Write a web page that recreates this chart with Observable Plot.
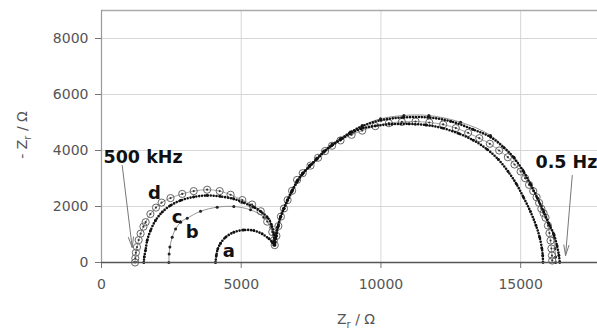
<!DOCTYPE html>
<html><head><meta charset="utf-8">
<script src="https://cdn.jsdelivr.net/npm/d3@7"></script>
<script src="https://cdn.jsdelivr.net/npm/@observablehq/plot@0.6"></script>
<style>body{margin:0;background:#fff}</style>
</head><body><div id="chart"></div>
<script>
// Nyquist data [Z_r (Ω), -Z_i (Ω)]
const seriesA = [[4080,0],[4110,250],[4160,480],[4260,680],[4440,900],[4735,1080],[5094,1160],[5450,1140],[5750,1020],[5990,850],[6120,720],[6170,620],
 [6230,900],[6300,1250],[6400,1600],[6530,1920],[6660,2220],[6820,2540],[7000,2880],[7200,3160],[7450,3430],[7700,3680],[7960,3940],[8250,4180],[8550,4380],[8900,4600],[9300,4780],
 [9800,4880],[10400,4940],[11000,4950],[11600,4910],[12200,4800],[12800,4600],[13300,4370],[13800,4040],[14200,3680],[14550,3250],[14850,2800],[15100,2330],[15350,1820],[15550,1320],[15680,900],[15760,500],[15790,250],[15800,0]];
const seriesB = [[2410,0],[2420,300],[2447,550],[2530,900],[2650,1200],[2830,1440],[3067,1580],[3543,1830],[4140,1975],[4735,2000],[5333,1880],[5810,1620],[6060,1250],[6170,800],[6200,620],
 [6260,950],[6330,1300],[6420,1640],[6530,1930],[6660,2240],[6820,2570],[7000,2910],[7200,3200],[7450,3470],[7700,3720],[7960,3980],[8250,4230],[8550,4440],[8900,4660],[9330,4890],[9985,5130],[10820,5250],[11715,5250],[12850,5010],[13920,4540],[14760,3760],[15350,2810],[15830,1860],[16050,1300],[16190,900],[16230,500],[16250,200],[16250,0]];
const seriesC = [[1515,0],[1530,200],[1575,430],[1635,785],[1754,1140],[1933,1500],[2172,1800],[2470,2036],[2827,2214],[3300,2340],[3780,2393],[4250,2360],[4735,2270],[5100,2130],[5450,1975],[5700,1820],[5930,1620],[6080,1350],[6170,1000],[6200,650],
 [6250,950],[6320,1290],[6410,1630],[6520,1920],[6650,2220],[6810,2550],[7000,2900],[7200,3180],[7450,3450],[7700,3700],[7960,3960],[8250,4200],[8550,4400],[8900,4640],[9330,4870],[10000,5080],[10800,5180],[11700,5180],[12500,5040],[13300,4750],[13920,4480],[14400,4100],[14757,3740],[15100,3250],[15354,2790],[15600,2300],[15830,1800],[16000,1400],[16190,1000],[16300,600],[16370,250],[16400,0]];
const seriesD = [[1200,0],[1210,150],[1230,350],[1270,550],[1330,800],[1400,1030],[1500,1280],[1580,1440],[1750,1730],[1950,1960],[2150,2140],[2470,2300],[2890,2450],[3300,2550],[3780,2600],[4230,2550],[4620,2420],[5040,2230],[5390,2070],[5700,1830],[5930,1460],[6110,1090],[6170,790],[6200,620],
 [6260,950],[6330,1300],[6420,1640],[6530,1930],[6660,2230],[6820,2560],[7000,2950],[7200,3190],[7480,3460],[7750,3740],[8000,3980],[8250,4170],[8554,4360],[8950,4560],[9330,4710],[9800,4870],[10283,4976],[10750,5020],[11238,5036],[11730,5000],[12226,4930],[12680,4800],[13120,4630],[13520,4440],[13897,4240],[14230,4000],[14542,3760],[14780,3500],[15000,3250],[15160,3010],[15300,2775],[15450,2550],[15570,2330],[15660,2130],[15740,1920],[15820,1760],[15890,1600],[15975,1320],[16030,1050],[16070,785],[16100,500],[16120,250],[16130,70]];

const xTicks = [0, 5000, 10000, 15000];
const yTicks = [0, 2000, 4000, 6000, 8000];
const curveLetters = ["a", "b", "c", "d"];
const letterX = [4556, 3246, 2709, 1897];
const letterY = [404, 1082, 1618, 2475];
const freqText = ["500 kHz", "0.5 Hz"];
const freqX = [72, 15530];
const freqY = [3768, 3571];
const arrowFromX = [741, 16847];
const arrowFromY = [3464, 3107];
const arrowToX = [1099, 16607];
const arrowToY = [536, 250];

const letters = curveLetters.map((t, i) => ({t, x: letterX[i], y: letterY[i]}));
const freqs = freqText.map((t, i) => ({t, x: freqX[i], y: freqY[i]}));
const arrows = arrowFromX.map((x1, i) => ({x1, y1: arrowFromY[i], x2: arrowToX[i], y2: arrowToY[i]}));

const X = d => d[0], Y = d => d[1];
const dense = {curve: "catmull-rom", stroke: "#111", strokeWidth: 2.6, strokeLinecap: "round", strokeDasharray: "0 2.9"};
const chart = Plot.plot({
  width: 597, height: 329,
  marginLeft: 101, marginRight: 0, marginTop: 10, marginBottom: 67,
  x: {domain: [0, 17750]},
  y: {domain: [0, 9000]},
  style: {fontFamily: "DejaVu Sans", background: "white", color: "#555", overflow: "visible"},
  marks: [
    Plot.gridX(xTicks.filter(d => d > 0), {stroke: "#d6d6d6", strokeOpacity: 1}),
    Plot.gridY(yTicks.filter(d => d > 0), {stroke: "#d6d6d6", strokeOpacity: 1}),
    Plot.ruleY([9000], {stroke: "#aaa", strokeWidth: 1.5}),
    Plot.ruleX([0], {stroke: "#999", strokeWidth: 1.2}),
    Plot.axisX({ticks: xTicks, tickFormat: d3.format("d"), tickSize: 6, tickPadding: 11, fontSize: 14, label: null, stroke: "#777"}),
    Plot.axisY({ticks: yTicks, tickFormat: d3.format("d"), tickSize: 6, tickPadding: 7, fontSize: 14, label: null, stroke: "#777"}),
    // b: thin line with small dots
    Plot.line(seriesB, {x: X, y: Y, curve: "catmull-rom", stroke: "#888", strokeWidth: 0.9}),
    Plot.dot(seriesB, {x: X, y: Y, r: 1.5, fill: "#222"}),
    // d: open circles with thin line
    Plot.line(seriesD, {x: X, y: Y, curve: "catmull-rom", stroke: "#999", strokeWidth: 0.9}),
    Plot.dot(seriesD, {x: X, y: Y, r: 3.6, stroke: "#666", strokeWidth: 1, fill: "none"}),
    Plot.dot(seriesD, {x: X, y: Y, r: 1.1, fill: "#333"}),
    // a, c: dense black dots
    Plot.line(seriesA, {x: X, y: Y, ...dense}),
    Plot.dot(seriesA, {x: X, y: Y, r: 1.4, fill: "#111"}),
    Plot.line(seriesC, {x: X, y: Y, ...dense}),
    Plot.dot(seriesC, {x: X, y: Y, r: 1.4, fill: "#111"}),
    Plot.ruleY([0], {stroke: "#555", strokeWidth: 1.5}),
    Plot.arrow(arrows, {x1: "x1", y1: "y1", x2: "x2", y2: "y2", stroke: "#777", strokeWidth: 1, headLength: 16, headAngle: 28}),
    Plot.text(letters, {x: "x", y: "y", text: "t", fontSize: 18, fontWeight: "bold", fill: "#111"}),
    Plot.text(freqs, {x: "x", y: "y", text: "t", textAnchor: "start", fontSize: 17.5, fontWeight: "bold", fill: "#111"})
  ]
});

const svg = d3.select(chart);
const xl = svg.append("text").attr("x", 356).attr("y", 324).attr("text-anchor", "middle")
  .attr("font-size", 14).attr("fill", "#555");
xl.append("tspan").text("Z");
xl.append("tspan").attr("dy", 4).attr("font-size", 10).text("r");
xl.append("tspan").attr("dy", -4).text(" / Ω");
const yl = svg.append("text").attr("transform", "translate(27,135) rotate(-90)").attr("text-anchor", "middle")
  .attr("font-size", 14).attr("fill", "#555");
yl.append("tspan").text("- Z");
yl.append("tspan").attr("dy", 4).attr("font-size", 10).text("r");
yl.append("tspan").attr("dy", -4).text(" / Ω");

document.getElementById("chart").appendChild(chart);
</script></body></html>
